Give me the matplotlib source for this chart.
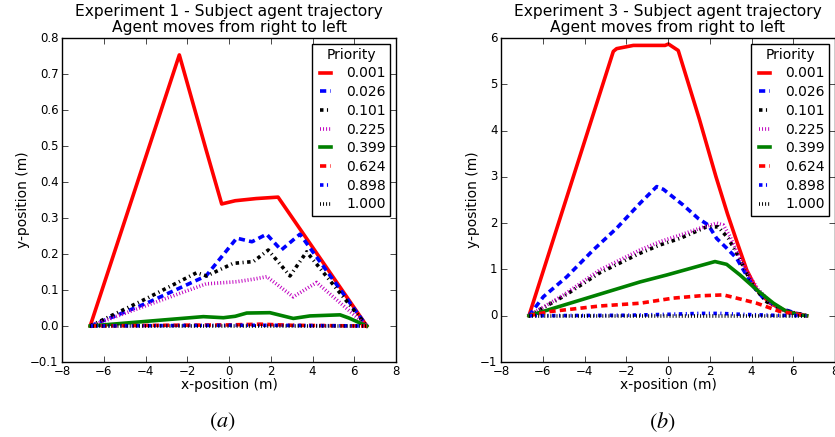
import matplotlib
matplotlib.use("Agg")
import matplotlib.pyplot as plt

plt.style.use("classic")
plt.rcParams["mathtext.fontset"] = "stix"
plt.rcParams["font.family"] = ["DejaVu Sans"]

# ---------------- Data ----------------
priorities = ["0.001", "0.026", "0.101", "0.225", "0.399", "0.624", "0.898", "1.000"]
colors = ["r", "b", "k", "m", "g", "r", "b", "k"]
styles = ["-", (0, (4.5, 3.0)), (0, (2.5, 2.5, 0.8, 2.5)), (0, (0.7, 1.5)),
          "-", (0, (4.5, 3.0)), (0, (2.5, 2.5, 0.8, 2.5)), (0, (0.7, 1.5))]

# Experiment 1
e1_x_001 = [-6.65, -2.38, -1.1, -0.35, 0.3, 1.3, 2.35, 6.6]
e1_y_001 = [0.0, 0.753, 0.49, 0.339, 0.348, 0.354, 0.358, 0.0]
e1_x_026 = [-6.65, -4.0, -1.1, 0.37, 1.1, 1.8, 2.5, 3.4, 6.6]
e1_y_026 = [0.0, 0.062, 0.139, 0.244, 0.234, 0.255, 0.211, 0.255, 0.0]
e1_x_101 = [-6.65, -4.0, -1.55, -1.07, 0.2, 1.17, 1.88, 2.92, 3.72, 6.6]
e1_y_101 = [0.0, 0.075, 0.148, 0.139, 0.174, 0.179, 0.211, 0.139, 0.206, 0.0]
e1_x_225 = [-6.65, -4.0, -1.1, 0.37, 1.17, 1.81, 3.08, 4.2, 6.6]
e1_y_225 = [0.0, 0.056, 0.117, 0.123, 0.130, 0.137, 0.081, 0.121, 0.0]
e1_x_399 = [-6.65, -1.23, -0.27, 0.3, 0.85, 1.96, 3.08, 3.88, 5.32, 5.75, 6.6]
e1_y_399 = [0.0, 0.026, 0.023, 0.027, 0.036, 0.037, 0.021, 0.028, 0.031, 0.022, 0.0]
e1_x_624 = [-6.65, -3.0, 0.0, 1.5, 2.0, 3.0, 6.6]
e1_y_624 = [0.0, 0.002, 0.003, 0.005, 0.004, 0.002, 0.0]
e1_x_898 = [-6.65, 0.0, 2.0, 6.6]
e1_y_898 = [0.0, 0.002, 0.002, 0.0]
e1_x_1000 = [-6.65, 6.6]
e1_y_1000 = [0.0, 0.0]

# Experiment 3
e3_x_001 = [-6.66, -2.62, -2.46, -1.66, -0.14, 0.02, 0.49, 1.5, 2.3, 2.85, 3.3, 3.77, 4.25, 4.89, 5.69, 6.64]
e3_y_001 = [0.0, 5.71, 5.77, 5.84, 5.84, 5.87, 5.73, 4.25, 3.0, 2.2, 1.6, 0.99, 0.56, 0.27, 0.09, 0.0]
e3_x_026 = [-6.66, -5.97, -4.85, -3.58, -2.46, -1.34, -0.54, -0.22, 0.73, 1.45, 1.93, 2.33, 2.81, 3.29, 3.61, 4.09, 4.57, 5.37, 6.17, 6.64]
e3_y_026 = [0.0, 0.41, 0.84, 1.42, 1.89, 2.43, 2.79, 2.73, 2.39, 2.10, 1.96, 1.67, 1.46, 1.24, 0.99, 0.63, 0.38, 0.16, 0.05, 0.0]
e3_x_101 = [-6.66, -5.0, -3.26, -1.34, -0.38, 0.57, 1.85, 2.41, 2.89, 3.29, 3.61, 4.09, 4.73, 5.53, 6.64]
e3_y_101 = [0.0, 0.42, 0.93, 1.35, 1.53, 1.67, 1.92, 1.92, 1.67, 1.35, 1.06, 0.63, 0.30, 0.12, 0.0]
e3_x_225 = [-6.66, -5.0, -3.26, -1.34, -0.38, 0.57, 1.53, 2.33, 2.65, 2.97, 3.45, 3.93, 4.33, 5.05, 5.85, 6.64]
e3_y_225 = [0.0, 0.45, 0.99, 1.42, 1.60, 1.74, 1.89, 2.0, 1.96, 1.71, 1.24, 0.84, 0.56, 0.23, 0.06, 0.0]
e3_x_399 = [-6.66, -1.34, -0.06, 2.25, 2.81, 3.45, 4.25, 5.05, 5.69, 6.3, 6.64]
e3_y_399 = [0.0, 0.73, 0.88, 1.17, 1.11, 0.88, 0.56, 0.27, 0.09, 0.02, 0.0]
e3_x_624 = [-6.66, -5.65, -3.26, -1.34, 0.25, 1.53, 2.65, 3.29, 4.25, 5.37, 6.64]
e3_y_624 = [0.0, 0.09, 0.21, 0.27, 0.38, 0.43, 0.45, 0.38, 0.27, 0.09, 0.0]
e3_x_898 = [-6.66, -2.0, 0.0, 1.5, 2.5, 3.5, 5.0, 6.64]
e3_y_898 = [0.0, 0.01, 0.03, 0.05, 0.05, 0.03, 0.01, 0.0]
e3_x_1000 = [-6.66, 6.64]
e3_y_1000 = [0.0, 0.0]

exp1_series = [(e1_x_001, e1_y_001), (e1_x_026, e1_y_026), (e1_x_101, e1_y_101),
               (e1_x_225, e1_y_225), (e1_x_399, e1_y_399), (e1_x_624, e1_y_624),
               (e1_x_898, e1_y_898), (e1_x_1000, e1_y_1000)]
exp3_series = [(e3_x_001, e3_y_001), (e3_x_026, e3_y_026), (e3_x_101, e3_y_101),
               (e3_x_225, e3_y_225), (e3_x_399, e3_y_399), (e3_x_624, e3_y_624),
               (e3_x_898, e3_y_898), (e3_x_1000, e3_y_1000)]

titles = ["Experiment 1 - Subject agent trajectory\nAgent moves from right to left",
          "Experiment 3 - Subject agent trajectory\nAgent moves from right to left"]
panel_labels = [r"$(a)$", r"$(b)$"]
xticks = [-8, -6, -4, -2, 0, 2, 4, 6, 8]
yticks1 = [-0.1, 0.0, 0.1, 0.2, 0.3, 0.4, 0.5, 0.6, 0.7, 0.8]
yticks3 = [-1, 0, 1, 2, 3, 4, 5, 6]

# ---------------- Figure ----------------
W, H = 835, 437
fig = plt.figure(figsize=(W / 100, H / 100), dpi=100, facecolor="white")
ax1 = fig.add_axes([62 / W, (H - 362) / H, 334 / W, 324 / H])
ax3 = fig.add_axes([501 / W, (H - 362) / H, 334 / W, 324 / H])

for ax, series, title, yt in [(ax1, exp1_series, titles[0], yticks1),
                              (ax3, exp3_series, titles[1], yticks3)]:
    for (xs, ys), lab, c, ls in zip(series, priorities, colors, styles):
        ax.plot(xs, ys, color=c, linestyle=ls, linewidth=2.6, label=lab,
                dash_capstyle="butt")
    ax.set_xlim(-8, 8)
    ax.set_ylim(yt[0], yt[-1])
    ax.set_xticks(xticks)
    ax.set_yticks(yt)
    ax.tick_params(labelsize=8.5, pad=2.5)
    ax.set_xlabel("x-position (m)", fontsize=10, labelpad=0)
    ax.set_ylabel("y-position (m)", fontsize=10, labelpad=0)
    ax.set_title(title, fontsize=11.2, linespacing=1.12, pad=4)
    leg = ax.legend(title="Priority", loc="upper right", fontsize=10, title_fontsize=10,
                    handlelength=1.4, labelspacing=0.34, handletextpad=0.8,
                    borderpad=0.3, borderaxespad=0.4, fancybox=False)
    leg.get_frame().set_edgecolor("black")

fig.text(222 / W, 1 - 422 / H, panel_labels[0], ha="center", va="center", fontsize=16)
fig.text(662 / W, 1 - 422 / H, panel_labels[1], ha="center", va="center", fontsize=16)

fig.savefig("out.png", dpi=100, facecolor="white")
